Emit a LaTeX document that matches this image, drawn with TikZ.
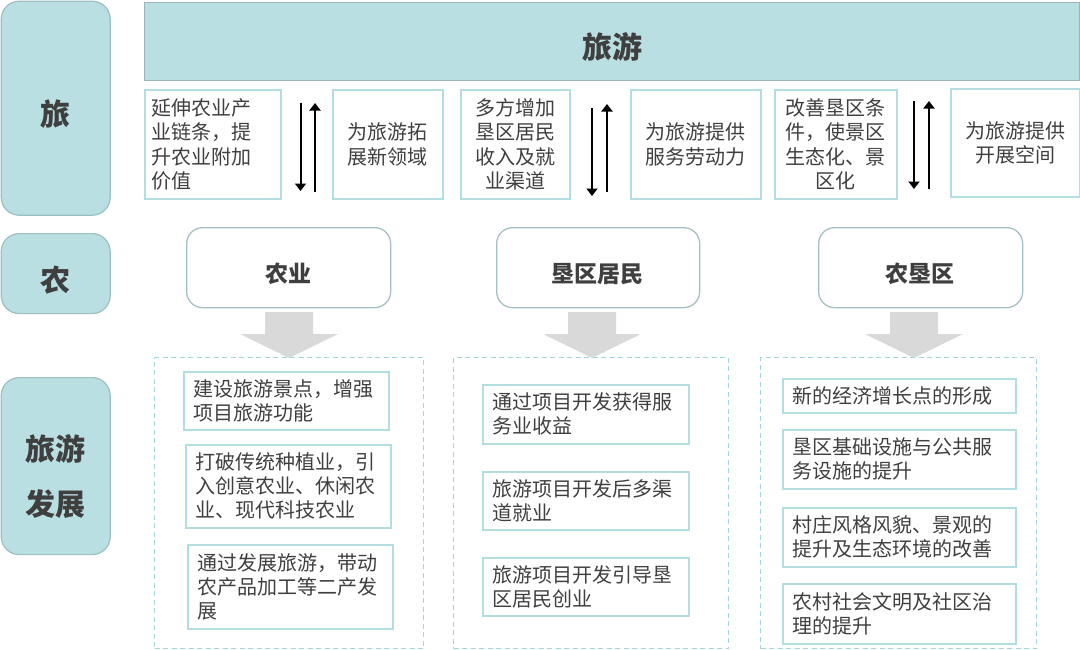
\documentclass[tikz,border=0pt]{standalone}
\usepackage{fontspec}
\setmainfont{Noto Sans CJK SC}
\usetikzlibrary{arrows.meta}
\definecolor{sidefill}{HTML}{B9DFE2}
\definecolor{sideline}{HTML}{9CBFC2}
\definecolor{bannerline}{HTML}{9DB5B7}
\definecolor{boxline}{HTML}{B2DDE1}
\definecolor{midline}{HTML}{A5C0C2}
\definecolor{dashline}{HTML}{9FD5DB}
\definecolor{arrowgray}{HTML}{D9D9D9}
\definecolor{txt}{HTML}{3F3F3F}
\tikzset{
  side/.style={rounded corners=18pt, fill=sidefill, draw=sideline, line width=1.2pt,
    anchor=north west, inner sep=0pt},
  sidetext/.style={text=txt, font=\bfseries\fontsize{30}{55}\selectfont, align=center, inner sep=0pt},
  banner/.style={fill=sidefill, draw=bannerline, line width=1.2pt, anchor=north west, inner sep=0pt},
  topbox/.style={draw=boxline, line width=1.5pt, fill=white, text=txt, anchor=north west,
    font=\fontsize{20}{24.5}\selectfont, align=center, inner sep=0pt},
  midbox/.style={rounded corners=16pt, draw=midline, line width=1.3pt, fill=white,
    anchor=north west, inner sep=0pt},
  midtext/.style={text=txt, font=\bfseries\fontsize{23}{28}\selectfont, inner sep=0pt},
  groupbox/.style={draw=dashline, dash pattern=on 5pt off 3.5pt, line width=1.2pt, anchor=north west, inner sep=0pt},
  innerbox/.style={draw=boxline, line width=1.5pt, fill=white, text=txt, anchor=north west,
    font=\fontsize{20}{24}\selectfont, align=left, inner xsep=10pt, inner ysep=0pt},
  flow/.style={line width=2pt, -{Triangle[length=7.5pt,width=11pt]}},
  bigarrow/.style={fill=arrowgray}
}
\begin{document}
\begin{tikzpicture}[x=1pt,y=-1pt]
\useasboundingbox (0,0) rectangle (1080,649);

% left column
\node[side, minimum width=109pt, minimum height=214pt] (sideA) at (0.6,0.6) {};
\node[sidetext] (sideAt) at (55,114) {旅};
\node[side, minimum width=109pt, minimum height=80pt] (sideB) at (0.6,233) {};
\node[sidetext] (sideBt) at (55,280) {农};
\node[side, minimum width=109pt, minimum height=177pt] (sideC) at (0.6,377) {};
\node[sidetext] (sideCt) at (55,477) {旅游\\发展};

% banner
\node[banner, minimum width=935pt, minimum height=78pt] (ban) at (144,2) {};
\node[text=txt, font=\bfseries\fontsize{30}{36}\selectfont] (bantxt) at (612,47) {旅游};

% top row boxes
\node[topbox, minimum width=136pt, minimum height=109pt, text width=122pt, align=left] (t1) at (144,89)
  {延伸农业产\\业链条，提\\升农业附加\\价值};
\node[topbox, minimum width=110pt, minimum height=109pt] (t2) at (332,89) {为旅游拓\\展新领域};
\node[topbox, minimum width=109pt, minimum height=109pt] (t3) at (460,89) {多方增加\\垦区居民\\收入及就\\业渠道};
\node[topbox, minimum width=130pt, minimum height=109pt] (t4) at (630,89) {为旅游提供\\服务劳动力};
\node[topbox, minimum width=122pt, minimum height=109pt] (t5) at (774,89) {改善垦区条\\件，使景区\\生态化、景\\区化};
\node[topbox, minimum width=129pt, minimum height=108pt] (t6) at (950,88) {为旅游提供\\开展空间};

% double arrows
\coordinate (a1t) at (300.5,103); \coordinate (a1b) at (300.5,191);
\coordinate (a2t) at (315,103); \coordinate (a2b) at (315,192);
\coordinate (a3t) at (592,108); \coordinate (a3b) at (592,196);
\coordinate (a4t) at (607,104); \coordinate (a4b) at (607,192);
\coordinate (a5t) at (914,101); \coordinate (a5b) at (914,189);
\coordinate (a6t) at (929,101); \coordinate (a6b) at (929,189);
\draw[flow] (a1t) -- (a1b);
\draw[flow] (a2b) -- (a2t);
\draw[flow] (a3t) -- (a3b);
\draw[flow] (a4b) -- (a4t);
\draw[flow] (a5t) -- (a5b);
\draw[flow] (a6b) -- (a6t);

% middle row
\node[midbox, minimum width=204pt, minimum height=80pt] (m1) at (186,227) {};
\node[midtext] (m1t) at (288,274) {农业};
\node[midbox, minimum width=203pt, minimum height=80pt] (m2) at (496,227) {};
\node[midtext] (m2t) at (597.5,274) {垦区居民};
\node[midbox, minimum width=204pt, minimum height=80pt] (m3) at (818,227) {};
\node[midtext] (m3t) at (920,274) {农垦区};

% big gray arrows
\foreach \cx in {289,592,914}{
  \fill[bigarrow] (\cx-24,312) -- (\cx+24,312) -- (\cx+24,334) -- (\cx+49,334) -- (\cx,358)
    -- (\cx-49,334) -- (\cx-24,334) -- cycle;
}

% dashed groups
\node[groupbox, minimum width=269pt, minimum height=291pt] (g1) at (154,357) {};
\node[groupbox, minimum width=275pt, minimum height=291pt] (g2) at (453,357) {};
\node[groupbox, minimum width=276pt, minimum height=291pt] (g3) at (760,357) {};

% inner boxes column 1
\node[innerbox, minimum width=205pt, text width=185pt, minimum height=58pt] (c1a) at (183,371)
  {建设旅游景点，增强\\项目旅游功能};
\node[innerbox, minimum width=205pt, text width=185pt, minimum height=83pt] (c1b) at (185,444)
  {打破传统种植业，引\\入创意农业、休闲农\\业、现代科技农业};
\node[innerbox, minimum width=205pt, text width=185pt, minimum height=84pt] (c1c) at (187,544)
  {通过发展旅游，带动\\农产品加工等二产发\\展};

% inner boxes column 2
\node[innerbox, minimum width=206pt, text width=186pt, minimum height=59pt] (c2a) at (482,384)
  {通过项目开发获得服\\务业收益};
\node[innerbox, minimum width=206pt, text width=186pt, minimum height=58pt] (c2b) at (482,471)
  {旅游项目开发后多渠\\道就业};
\node[innerbox, minimum width=206pt, text width=186pt, minimum height=58pt] (c2c) at (482,557)
  {旅游项目开发引导垦\\区居民创业};

% inner boxes column 3
\node[innerbox, minimum width=233pt, text width=213pt, minimum height=34pt] (c3a) at (782,378)
  {新的经济增长点的形成};
\node[innerbox, minimum width=233pt, text width=213pt, minimum height=59pt] (c3b) at (782,429)
  {垦区基础设施与公共服\\务设施的提升};
\node[innerbox, minimum width=233pt, text width=213pt, minimum height=59pt] (c3c) at (782,507)
  {村庄风格风貌、景观的\\提升及生态环境的改善};
\node[innerbox, minimum width=233pt, text width=213pt, minimum height=60pt] (c3d) at (782,583)
  {农村社会文明及社区治\\理的提升};
\end{tikzpicture}
\end{document}
